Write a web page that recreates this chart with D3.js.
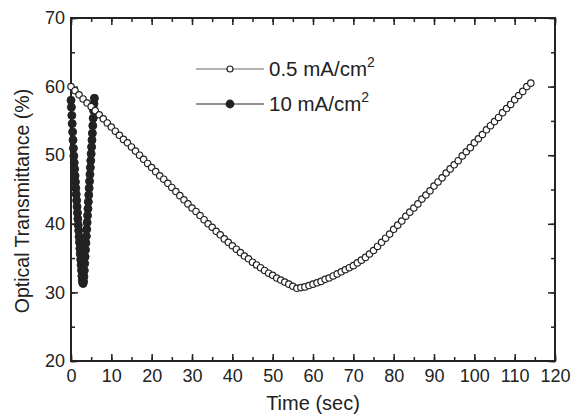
<!DOCTYPE html>
<html>
<head>
<meta charset="utf-8">
<script src="https://cdn.jsdelivr.net/npm/d3@7"></script>
<style>
  body { margin: 0; background: #fff; }
  svg { display: block; font-family: Arial, "Liberation Sans", sans-serif; }
</style>
</head>
<body>
<svg id="chart" width="573" height="416"></svg>
<script>
// ---- data ----
const lowTime = [0,1,2,3,4,5,6,7,8,9,10,11,12,13,14,15,16,17,18,19,20,21,22,23,24,25,26,27,28,29,30,31,32,33,34,35,36,37,38,39,40,41,42,43,44,45,46,47,48,49,50,51,52,53,54,55,56,57,58,59,60,61,62,63,64,65,66,67,68,69,70,71,72,73,74,75,76,77,78,79,80,81,82,83,84,85,86,87,88,89,90,91,92,93,94,95,96,97,98,99,100,101,102,103,104,105,106,107,108,109,110,111,112,113,114];
const lowValues = [60.0,59.4,58.8,58.2,57.6,57.1,56.5,55.9,55.3,54.7,54.1,53.5,52.9,52.3,51.8,51.2,50.6,50.0,49.4,48.8,48.2,47.6,47.0,46.5,45.9,45.3,44.7,44.1,43.5,42.9,42.3,41.8,41.2,40.6,40.0,39.5,38.9,38.4,37.8,37.3,36.8,36.3,35.8,35.3,34.9,34.4,34.0,33.6,33.2,32.8,32.5,32.1,31.8,31.5,31.2,30.9,30.6,30.7,30.8,31.0,31.2,31.4,31.6,31.9,32.1,32.4,32.7,33.0,33.3,33.6,33.9,34.3,34.7,35.1,35.6,36.1,36.7,37.3,37.9,38.5,39.2,39.8,40.4,41.1,41.7,42.3,42.9,43.6,44.2,44.8,45.5,46.1,46.7,47.4,48.0,48.6,49.2,49.9,50.5,51.1,51.8,52.4,53.0,53.7,54.3,54.9,55.5,56.2,56.8,57.4,58.1,58.7,59.3,60.0,60.5];
const highTime = [0.0,0.1,0.2,0.3,0.4,0.5,0.6,0.7,0.8,0.9,1.0,1.1,1.2,1.3,1.4,1.5,1.6,1.7,1.8,1.9,2.0,2.1,2.2,2.3,2.4,2.5,2.6,2.7,2.8,2.9,3.0,3.1,3.2,3.3,3.4,3.5,3.6,3.7,3.8,3.9,4.0,4.1,4.2,4.3,4.4,4.5,4.6,4.7,4.8,4.9,5.0,5.1,5.2,5.3,5.4,5.5,5.6,5.7,5.8];
const highValues = [58.0,57.0,55.8,54.6,53.4,52.2,51.0,49.9,48.9,48.0,47.0,46.1,45.2,44.3,43.4,42.5,41.6,40.7,39.8,39.0,38.1,37.3,36.4,35.6,34.8,34.0,33.2,32.4,31.8,31.4,31.3,31.6,32.3,33.2,34.2,35.2,36.2,37.2,38.2,39.2,40.2,41.2,42.2,43.2,44.2,45.2,46.2,47.2,48.2,49.2,50.2,51.2,52.2,53.2,54.3,55.4,56.5,57.5,58.3];
const seriesLabels = ["0.5 mA/cm", "10 mA/cm"];
const xTicks = [0,10,20,30,40,50,60,70,80,90,100,110,120];
const yTicks = [20,30,40,50,60,70];
const xTitle = "Time (sec)";
const yTitle = "Optical Transmittance (%)";

// ---- layout ----
const svg = d3.select("#chart");
const L = 71, R = 555, T = 18, B = 361;
const x = d3.scaleLinear().domain([0, 120]).range([L, R]);
const y = d3.scaleLinear().domain([20, 70]).range([B, T]);
const ink = "#222";
const FONT = "Arial, 'Liberation Sans', sans-serif";

const low = lowTime.map((t, i) => ({t, v: lowValues[i]}));
const high = highTime.map((t, i) => ({t, v: highValues[i]}));

// ---- axes: major + minor ticks, all inward ----
const xMinor = d3.range(0, 121, 5);
const yMinor = d3.range(20, 71, 5);
function axisGroup(axis, tr) {
  const g = svg.append("g").attr("transform", tr).call(axis);
  g.select(".domain").remove();
  g.selectAll("line").attr("stroke", ink).attr("stroke-width", 1.5);
  return g;
}
// bottom
axisGroup(d3.axisBottom(x).tickValues(xMinor).tickSize(-4).tickFormat(""), `translate(0,${B})`);
const gx = axisGroup(d3.axisBottom(x).tickValues(xTicks).tickSize(-7).tickPadding(8).tickFormat(d3.format("d")), `translate(0,${B})`);
gx.selectAll("text").attr("font-size", 18).attr("fill", ink).attr("font-family", FONT);
// top
axisGroup(d3.axisTop(x).tickValues(xMinor).tickSize(-4).tickFormat(""), `translate(0,${T})`);
axisGroup(d3.axisTop(x).tickValues(xTicks).tickSize(-7).tickFormat(""), `translate(0,${T})`);
// left
axisGroup(d3.axisLeft(y).tickValues(yMinor).tickSize(-4).tickFormat(""), `translate(${L},0)`);
const gy = axisGroup(d3.axisLeft(y).tickValues(yTicks).tickSize(-7).tickPadding(6).tickFormat(d3.format("d")), `translate(${L},0)`);
gy.selectAll("text").attr("font-size", 18).attr("fill", ink).attr("font-family", FONT);
// right
axisGroup(d3.axisRight(y).tickValues(yMinor).tickSize(-4).tickFormat(""), `translate(${R},0)`);
axisGroup(d3.axisRight(y).tickValues(yTicks).tickSize(-7).tickFormat(""), `translate(${R},0)`);

// frame
svg.append("rect").attr("x", L).attr("y", T).attr("width", R - L).attr("height", B - T)
  .attr("fill", "none").attr("stroke", ink).attr("stroke-width", 2);

// ---- series ----
const line = d3.line().x(d => x(d.t)).y(d => y(d.v));
svg.append("path").datum(high).attr("d", line).attr("fill", "none").attr("stroke", ink).attr("stroke-width", 1);
svg.append("g").selectAll("circle").data(high).join("circle")
  .attr("cx", d => x(d.t)).attr("cy", d => y(d.v)).attr("r", 4)
  .attr("fill", ink).attr("stroke", ink).attr("stroke-width", 1);

svg.append("path").datum(low).attr("d", line).attr("fill", "none").attr("stroke", "#555").attr("stroke-width", 1);
svg.append("g").selectAll("circle").data(low).join("circle")
  .attr("cx", d => x(d.t)).attr("cy", d => y(d.v)).attr("r", 3.2)
  .attr("fill", "#fff").attr("stroke", ink).attr("stroke-width", 1.2);

// ---- legend ----
const legY = [69, 104];
const legend = svg.append("g");
seriesLabels.forEach((lab, i) => {
  const gy0 = legY[i];
  legend.append("line").attr("x1", 196).attr("x2", 264).attr("y1", gy0).attr("y2", gy0)
    .attr("stroke", i === 0 ? "#666" : ink).attr("stroke-width", 1.2);
  legend.append("circle").attr("cx", 230).attr("cy", gy0).attr("r", i === 0 ? 3 : 3.8)
    .attr("fill", i === 0 ? "#fff" : ink).attr("stroke", ink).attr("stroke-width", 1.2);
  const t = legend.append("text").attr("x", 269).attr("y", gy0 + 7)
    .attr("font-size", 20.5).attr("fill", ink);
  t.append("tspan").text(lab);
  t.append("tspan").attr("dy", -9).attr("font-size", 14).text("2");
});

// ---- titles ----
svg.append("text").attr("x", 313).attr("y", 410).attr("text-anchor", "middle")
  .attr("font-size", 20).attr("fill", ink).text(xTitle);
svg.append("text").attr("transform", `translate(29,201) rotate(-90)`)
  .attr("text-anchor", "middle").attr("font-size", 19.5).attr("fill", ink).text(yTitle);
</script>
</body>
</html>
